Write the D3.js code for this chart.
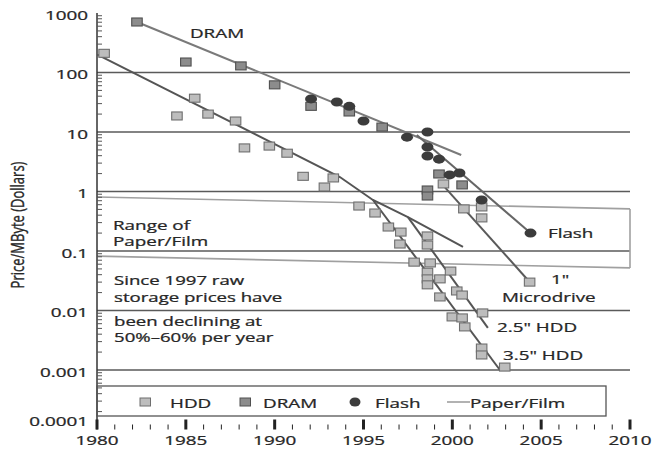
<!DOCTYPE html>
<html><head><meta charset="utf-8">
<script src="https://cdn.jsdelivr.net/npm/d3@7"></script>
<style>html,body{margin:0;padding:0;background:#fff;}svg{display:block;}</style>
</head><body>
<svg id="chart" width="655" height="451"></svg>
<script>
// ---------- data ----------
const hddYears  = [1980.4,1984.5,1985.5,1986.25,1987.8,1988.3,1989.7,1990.7,1991.6,1992.8,1993.3,1994.75,1995.65,1996.4,1997.1,1997.05,1998.6,1998.6,1997.85,1998.75,1998.6,1998.6,1998.6,1999.3,1999.9,1999.3,2000.25,2000.55,2000.0,2000.55,2000.7,2001.7,2001.65,2001.65,2002.95,1999.5,2000.65,2001.65,2001.65,2004.35];
const hddValues = [210,18.6,37,20,15.3,5.4,5.8,4.4,1.8,1.19,1.69,0.57,0.435,0.253,0.208,0.131,0.179,0.126,0.065,0.063,0.044,0.034,0.027,0.034,0.046,0.0169,0.0213,0.0182,0.0078,0.0075,0.0053,0.0091,0.00234,0.00179,0.00112,1.34,0.51,0.55,0.36,0.030];
const dramYears  = [1982.25,1985.0,1988.1,1990.0,1992.05,1994.2,1996.05,1999.25,1998.6,1998.6,2000.55];
const dramValues = [706,150,129,62,27,21.7,12.1,1.97,1.06,0.84,1.29];
const flashYears  = [1992.05,1993.5,1994.2,1995.0,1997.45,1998.6,1998.6,1998.6,1999.25,1999.85,2000.4,2001.65,2004.4];
const flashValues = [36,32,27,15.3,8.2,10,5.6,3.95,3.5,1.9,2.05,0.72,0.2];
// trend lines [year, value]
const hddTrend       = [[1980.05,197],[1993.67,1.75],[1995.53,0.72],[1997.5,0.372],[2000.6,0.117]];
const hdd35Trend     = [[1995.53,0.72],[2002.68,0.001]];
const hdd25Trend     = [[1997.5,0.372],[2002.0,0.0051]];
const microTrend     = [[1999.47,1.28],[2004.25,0.0326]];
const dramTrend      = [[1982.25,706],[2000.5,4.1]];
const flashTrend     = [[1998.0,8.9],[2004.4,0.2]];
const paperUpper     = [[1980,0.81],[2010,0.51]];
const paperLower     = [[1980,0.082],[2010,0.052]];
// axis ticks
const yTickValues = [1000,100,10,1,0.1,0.01,0.001,0.0001];
const yTickLabels = ["1000","100","10","1","0.1","0.01","0.001","0.0001"];
const gridValues  = [100,10,1,0.1,0.01,0.001];
const xTickValues = [1980,1985,1990,1995,2000,2005,2010];
const xTickLabels = ["1980","1985","1990","1995","2000","2005","2010"];
const legendLabels = ["HDD","DRAM","Flash","Paper/Film"];

// ---------- drawing ----------
const svg = d3.select("#chart");
const x = d3.scaleLinear().domain([1980,2010]).range([97,630]);
const y = d3.scaleLog().domain([1000,0.0001]).range([13,429.5]);
const SX = 1.45;
const FONT = "'Open Sans', sans-serif";
const TXT = "#262626";

function label(px, py, str, opts={}) {
  return svg.append("text")
    .attr("transform", `translate(${px},${py}) scale(${opts.sx||SX},1)`)
    .attr("dy","0.36em")
    .attr("text-anchor", opts.anchor || "start")
    .attr("font-family", FONT)
    .attr("font-size", opts.size || 13)
    .attr("fill", TXT)
    .attr("stroke", TXT).attr("stroke-width", 0.25)
    .text(str);
}

// gridlines
svg.append("g").selectAll("line").data(gridValues).join("line")
  .attr("x1", x(1980)).attr("x2", x(2010))
  .attr("y1", d => y(d)).attr("y2", d => y(d))
  .attr("stroke","#5a5a5a").attr("stroke-width",1.3);

// paper/film range
const line = d3.line().x(d => x(d[0])).y(d => y(d[1]));
[paperUpper, paperLower].forEach(p => {
  svg.append("path").attr("d", line(p)).attr("fill","none")
    .attr("stroke","#a0a0a0").attr("stroke-width",1.6);
});
svg.append("line")
  .attr("x1", x(2010)).attr("x2", x(2010))
  .attr("y1", y(paperUpper[1][1])).attr("y2", y(paperLower[1][1]))
  .attr("stroke","#a0a0a0").attr("stroke-width",1.6);

// trend lines
[[hddTrend,"#555"],[hdd35Trend,"#555"],[hdd25Trend,"#555"],[microTrend,"#5a5a5a"],
 [dramTrend,"#7a7a7a"],[flashTrend,"#666"]].forEach(([d,c]) => {
  svg.append("path").attr("d", line(d)).attr("fill","none")
    .attr("stroke", c).attr("stroke-width", 2);
});

// y axis
svg.append("line").attr("x1", x(1980)).attr("x2", x(1980))
  .attr("y1", y(1000)).attr("y2", y(0.0001))
  .attr("stroke","#333").attr("stroke-width",1.5);
const minor = [];
for (let e = -4; e < 3; e++) for (let m = 2; m <= 9; m++) minor.push(m * Math.pow(10, e));
svg.append("g").selectAll("line").data(minor).join("line")
  .attr("x1", x(1980)).attr("x2", x(1980) + 5)
  .attr("y1", d => y(d)).attr("y2", d => y(d))
  .attr("stroke","#555").attr("stroke-width",1);

yTickValues.forEach((v,i) => {
  const py = i === yTickValues.length - 1 ? y(v) - 8 : y(v) + 2;
  label(88, py, yTickLabels[i], {anchor:"end", size:13});
});

// x axis ticks
const xMinor = d3.range(1980, 2011, 1);
svg.append("g").selectAll("line").data(xMinor).join("line")
  .attr("x1", d => x(d)).attr("x2", d => x(d))
  .attr("y1", d => d % 5 === 0 ? y(0.0001) - 10 : y(0.0001) - 5)
  .attr("y2", y(0.0001))
  .attr("stroke","#222").attr("stroke-width", d => d % 5 === 0 ? 3 : 1);
xTickValues.forEach((v,i) => label(x(v), 440, xTickLabels[i], {anchor:"middle", size:13}));

// y axis title
svg.append("text")
  .attr("transform", `translate(17,225) scale(1.45,1) rotate(-90)`)
  .attr("dy","0.36em").attr("text-anchor","middle")
  .attr("font-family", FONT).attr("font-size", 13).attr("fill", TXT)
  .attr("stroke", TXT).attr("stroke-width", 0.25)
  .text("Price/MByte (Dollars)");

// markers
function squares(xs, vs, fill, stroke) {
  svg.append("g").selectAll("rect").data(xs.map((d,i)=>[d,vs[i]])).join("rect")
    .attr("x", d => x(d[0]) - 5.25).attr("y", d => y(d[1]) - 4)
    .attr("width", 10.5).attr("height", 8)
    .attr("fill", fill).attr("stroke", stroke).attr("stroke-width", 1.1);
}
squares(hddYears, hddValues, "#bdbdbd", "#6e6e6e");
squares(dramYears, dramValues, "#8c8c8c", "#505050");
svg.append("g").selectAll("ellipse").data(flashYears.map((d,i)=>[d,flashValues[i]])).join("ellipse")
  .attr("cx", d => x(d[0])).attr("cy", d => y(d[1]))
  .attr("rx", 6).attr("ry", 4.5).attr("fill", "#3c3c3c");

// annotations
label(x(1985.23), y(461), "DRAM");
label(x(1980.9), y(0.273), "Range of");
label(x(1980.9), y(0.147), "Paper/Film");
label(x(1980.96), 281, "Since 1997 raw", {size:12, sx:1.55});
label(x(1980.96), 297.5, "storage prices have", {size:12, sx:1.55});
label(x(1980.96), 321.5, "been declining at", {size:12, sx:1.55});
label(x(1980.96), 338, "50%\u201360% per year", {size:12, sx:1.55});
label(x(2005.38), y(0.2), "Flash");
label(x(2005.55), y(0.034), "1\"");
label(x(2002.79), y(0.0169), "Microdrive");
label(x(2002.51), y(0.0053), "2.5\" HDD");
label(x(2002.85), y(0.00179), "3.5\" HDD");

// legend
svg.append("rect").attr("x", 97).attr("y", 386).attr("width", 509).attr("height", 30)
  .attr("fill","none").attr("stroke","#555").attr("stroke-width",1.3);
svg.append("rect").attr("x", 140).attr("y", 398).attr("width", 10.5).attr("height", 8)
  .attr("fill","#bdbdbd").attr("stroke","#6e6e6e");
label(170, 403, legendLabels[0]);
svg.append("rect").attr("x", 240).attr("y", 398).attr("width", 10.5).attr("height", 8)
  .attr("fill","#8c8c8c").attr("stroke","#505050");
label(263, 403, legendLabels[1]);
svg.append("ellipse").attr("cx", 355).attr("cy", 402).attr("rx", 5.5).attr("ry", 4.5).attr("fill","#3c3c3c");
label(375, 403, legendLabels[2]);
svg.append("line").attr("x1", 447).attr("x2", 470).attr("y1", 402).attr("y2", 402)
  .attr("stroke","#888").attr("stroke-width",1.3);
label(470, 403, legendLabels[3]);
</script>
</body></html>
